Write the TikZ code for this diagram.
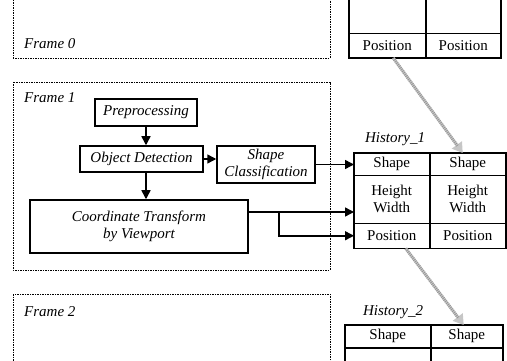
\documentclass[tikz,border=0pt]{standalone}
\usepackage{fontspec}
\setmainfont{Liberation Serif}
\usetikzlibrary{arrows.meta}
\tikzset{
  stepbox/.style={draw, line width=1.5pt, inner sep=0pt, font=\itshape, align=center},
  frame/.style={draw, line width=0.6pt, dash pattern=on 1.5pt off 1pt},
  cell/.style={draw, line width=0.5pt, inner sep=0pt, align=center, anchor=north west},
  flow/.style={line width=1.5pt, -{Triangle[length=9pt,width=9pt]}},
  hist/.style={draw=gray!45, line width=3pt, -{Triangle[length=10pt,width=12pt]},
    postaction={draw=gray!85, line width=3pt, dash pattern=on 0.7pt off 1.3pt, shorten >=9pt, -}},
}
\begin{document}
\begin{tikzpicture}[x=1pt, y=-1pt]
  \fontsize{15}{17}\selectfont
  \clip (0,0) rectangle (507,361);
  % frames
  \draw[frame] (13,-5) rectangle (330,58);
  \draw[frame] (13,82) rectangle (330,270);
  \draw[frame] (13,294) rectangle (330,380);
  \node[anchor=west, font=\itshape] (f0) at (19,44) {Frame 0};
  \node[anchor=west, font=\itshape] (f1) at (19,98) {Frame 1};
  \node[anchor=west, font=\itshape] (f2) at (19,312) {Frame 2};
  % processing steps
  \node[stepbox, minimum width=102, minimum height=27] (prep) at (146,112.5) {Preprocessing};
  \node[stepbox, minimum width=123, minimum height=26] (detect) at (141.5,159) {Object Detection};
  \node[stepbox, minimum width=98, minimum height=37] (shape) at (266,164.5) {Shape\\Classification};
  \node[stepbox, minimum width=218, minimum height=53] (coord) at (139,226.5) {Coordinate Transform\\by Viewport};
  \draw[flow] (prep.south) -- (prep.south |- detect.north);
  \draw[flow] (detect.south -| prep.south) -- (prep.south |- coord.north);
  \draw[flow] (detect.east) -- (shape.west |- detect.east);
  % history 0
  \node[cell, minimum width=76, minimum height=43] (h0a) at (349,-10) {};
  \node[cell, minimum width=75, minimum height=43] (h0a2) at (h0a.north east) {};
  \node[cell, minimum width=76, minimum height=24] (h0b) at (h0a.south west) {Position};
  \node[cell, minimum width=75, minimum height=24] (h0b2) at (h0b.north east) {Position};
  \draw[line width=1.5pt] (h0a.north west) rectangle (h0b2.south east);
  % history 1
  \node[font=\itshape] (h1lab) at (395,139) {History\_1};
  \node[cell, minimum width=75, minimum height=22] (h1a) at (354,153) {Shape};
  \node[cell, minimum width=76, minimum height=22] (h1a2) at (h1a.north east) {Shape};
  \node[cell, minimum width=75, minimum height=47] (h1b) at (h1a.south west) {Height\\Width};
  \node[cell, minimum width=76, minimum height=47] (h1b2) at (h1b.north east) {Height\\Width};
  \node[cell, minimum width=75, minimum height=25] (h1c) at (h1b.south west) {Position};
  \node[cell, minimum width=76, minimum height=25] (h1c2) at (h1c.north east) {Position};
  \draw[line width=1.5pt] (h1a.north west) rectangle (h1c2.south east);
  % history 2
  \node[font=\itshape] (h2lab) at (393,312) {History\_2};
  \node[cell, minimum width=85, minimum height=22] (h2a) at (345,325) {Shape};
  \node[cell, minimum width=72, minimum height=22] (h2a2) at (h2a.north east) {Shape};
  \node[cell, minimum width=85, minimum height=40] (h2b) at (h2a.south west) {};
  \node[cell, minimum width=72, minimum height=40] (h2b2) at (h2b.north east) {};
  \draw[line width=1.5pt] (h2a.north west) rectangle (h2b2.south east);
  % results into history
  \coordinate (split) at (279,212);
  \draw[flow] (shape.east) -- (shape.east -| h1a.west);
  \draw[flow] (coord.east |- split) -- (h1b.west |- split);
  \draw[flow] (split) |- (h1c.west);
  \draw[hist] ([xshift=6]h0b.south) -- ([xshift=-5]h1a2.north);
  \draw[hist] ([xshift=14]h1c.south) -- ([xshift=-3]h2a2.north);
\end{tikzpicture}
\end{document}
